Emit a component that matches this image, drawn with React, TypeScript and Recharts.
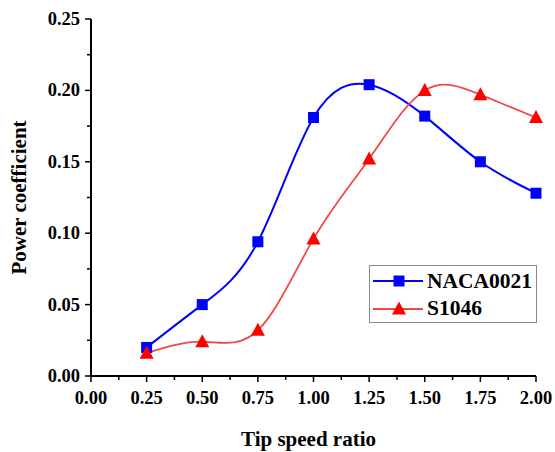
import React from 'react';
import { LineChart, Line, XAxis, YAxis, Legend, Label } from 'recharts';

const tsr = [0.25, 0.5, 0.75, 1.0, 1.25, 1.5, 1.75, 2.0];
const naca0021 = [0.020, 0.050, 0.094, 0.181, 0.204, 0.182, 0.150, 0.128];
const s1046 = [0.016, 0.024, 0.032, 0.096, 0.152, 0.200, 0.197, 0.181];
const xTicks = [0, 0.125, 0.25, 0.375, 0.5, 0.625, 0.75, 0.875, 1.0, 1.125, 1.25, 1.375, 1.5, 1.625, 1.75, 1.875, 2.0];
const yTicks = [0, 0.025, 0.05, 0.075, 0.1, 0.125, 0.15, 0.175, 0.2, 0.225, 0.25];
const seriesNames = ['NACA0021', 'S1046'];

const data = tsr.map((x, i) => ({ x, a: naca0021[i], b: s1046[i] }));

const FONT = '"Liberation Serif", "Times New Roman", serif';
const BLUE = '#0000ff';
const RED = '#ff0000';
const RED_LINE = '#f04848';

const isMajor = (v: number, step: number) => Math.abs(v / step - Math.round(v / step)) < 1e-6;

const XTick = (props: any) => {
  const { x, y, payload } = props;
  const major = isMajor(payload.value, 0.25);
  return (
    <g>
      <line x1={x} y1={y} x2={x} y2={y + (major ? 6 : 4)} stroke="#000" strokeWidth={1.5} />
      {major && (
        <text x={x} y={y + 28} textAnchor="middle" fontFamily={FONT} fontWeight="bold" fontSize={18.5} fill="#000">
          {payload.value.toFixed(2)}
        </text>
      )}
    </g>
  );
};

const YTick = (props: any) => {
  const { x, y, payload } = props;
  const major = isMajor(payload.value, 0.05);
  return (
    <g>
      <line x1={x} y1={y} x2={x - (major ? 6 : 4)} y2={y} stroke="#000" strokeWidth={1.5} />
      {major && (
        <text x={x - 11} y={y + 6} textAnchor="end" fontFamily={FONT} fontWeight="bold" fontSize={18.5} fill="#000">
          {payload.value.toFixed(2)}
        </text>
      )}
    </g>
  );
};

const SquareDot = (props: any) => {
  const { cx, cy } = props;
  if (cx == null || cy == null) return null;
  return <rect key={`s-${cx}`} x={cx - 5.5} y={cy - 5.5} width={11} height={11} fill={BLUE} />;
};

const TriDot = (props: any) => {
  const { cx, cy } = props;
  if (cx == null || cy == null) return null;
  return <path key={`t-${cx}`} d={`M${cx},${cy - 7.5} L${cx + 7},${cy + 5.5} L${cx - 7},${cy + 5.5} Z`} fill={RED} />;
};

const LegendBox = () => (
  <div
    style={{
      width: 168,
      height: 58,
      border: '1px solid #8a8a8a',
      background: '#fff',
      boxSizing: 'border-box',
      fontFamily: FONT,
      fontWeight: 'bold',
      fontSize: 21.5,
      color: '#000',
    }}
  >
    <div style={{ display: 'flex', alignItems: 'center', height: 28, marginTop: 1 }}>
      <svg width={57} height={20} style={{ display: 'block' }}>
        <line x1={3} y1={10} x2={53} y2={10} stroke={BLUE} strokeWidth={2} />
        <rect x={23.5} y={4.5} width={11} height={11} fill={BLUE} />
      </svg>
      <span style={{ lineHeight: '28px' }}>{seriesNames[0]}</span>
    </div>
    <div style={{ display: 'flex', alignItems: 'center', height: 27 }}>
      <svg width={57} height={20} style={{ display: 'block' }}>
        <line x1={3} y1={10} x2={53} y2={10} stroke={RED_LINE} strokeWidth={1.8} />
        <path d="M29,2.5 L36,15.5 L22,15.5 Z" fill={RED} />
      </svg>
      <span style={{ lineHeight: '27px' }}>{seriesNames[1]}</span>
    </div>
  </div>
);

export default function App() {
  return (
    <div style={{ position: 'absolute', left: 0, top: 0, width: 555, height: 452, background: '#fff' }}>
      <LineChart width={555} height={452} data={data} margin={{ top: 19, right: 19, bottom: 0, left: 0 }}>
        <XAxis
          dataKey="x"
          type="number"
          domain={[0, 2]}
          ticks={xTicks}
          interval={0}
          tickSize={0}
          tickMargin={0}
          tickLine={false}
          tick={<XTick />}
          height={76}
          axisLine={{ stroke: '#000', strokeWidth: 2 }}
        >
          <Label
            value="Tip speed ratio"
            position="insideBottom"
            offset={6}
            dx={-5}
            style={{ fontFamily: FONT, fontWeight: 'bold', fontSize: 21, fill: '#000' }}
          />
        </XAxis>
        <YAxis
          type="number"
          domain={[0, 0.25]}
          ticks={yTicks}
          interval={0}
          tickSize={0}
          tickMargin={0}
          tickLine={false}
          tick={<YTick />}
          width={91}
          axisLine={{ stroke: '#000', strokeWidth: 2 }}
        >
          <Label
            value="Power coefficient"
            position="center"
            angle={-90}
            dx={-27}
            style={{ fontFamily: FONT, fontWeight: 'bold', fontSize: 21, fill: '#000' }}
          />
        </YAxis>
        <Legend
          layout="vertical"
          align="center"
          verticalAlign="middle"
          content={() => <LegendBox />}
          wrapperStyle={{ position: 'absolute', left: 369, top: 265, width: 168, height: 58, margin: 0 }}
        />
        <Line
          dataKey="a"
          name={seriesNames[0]}
          type="natural"
          stroke={BLUE}
          strokeWidth={2}
          dot={<SquareDot />}
          activeDot={false}
          isAnimationActive={false}
        />
        <Line
          dataKey="b"
          name={seriesNames[1]}
          type="natural"
          stroke={RED_LINE}
          strokeWidth={1.8}
          dot={<TriDot />}
          activeDot={false}
          isAnimationActive={false}
        />
      </LineChart>
    </div>
  );
}
